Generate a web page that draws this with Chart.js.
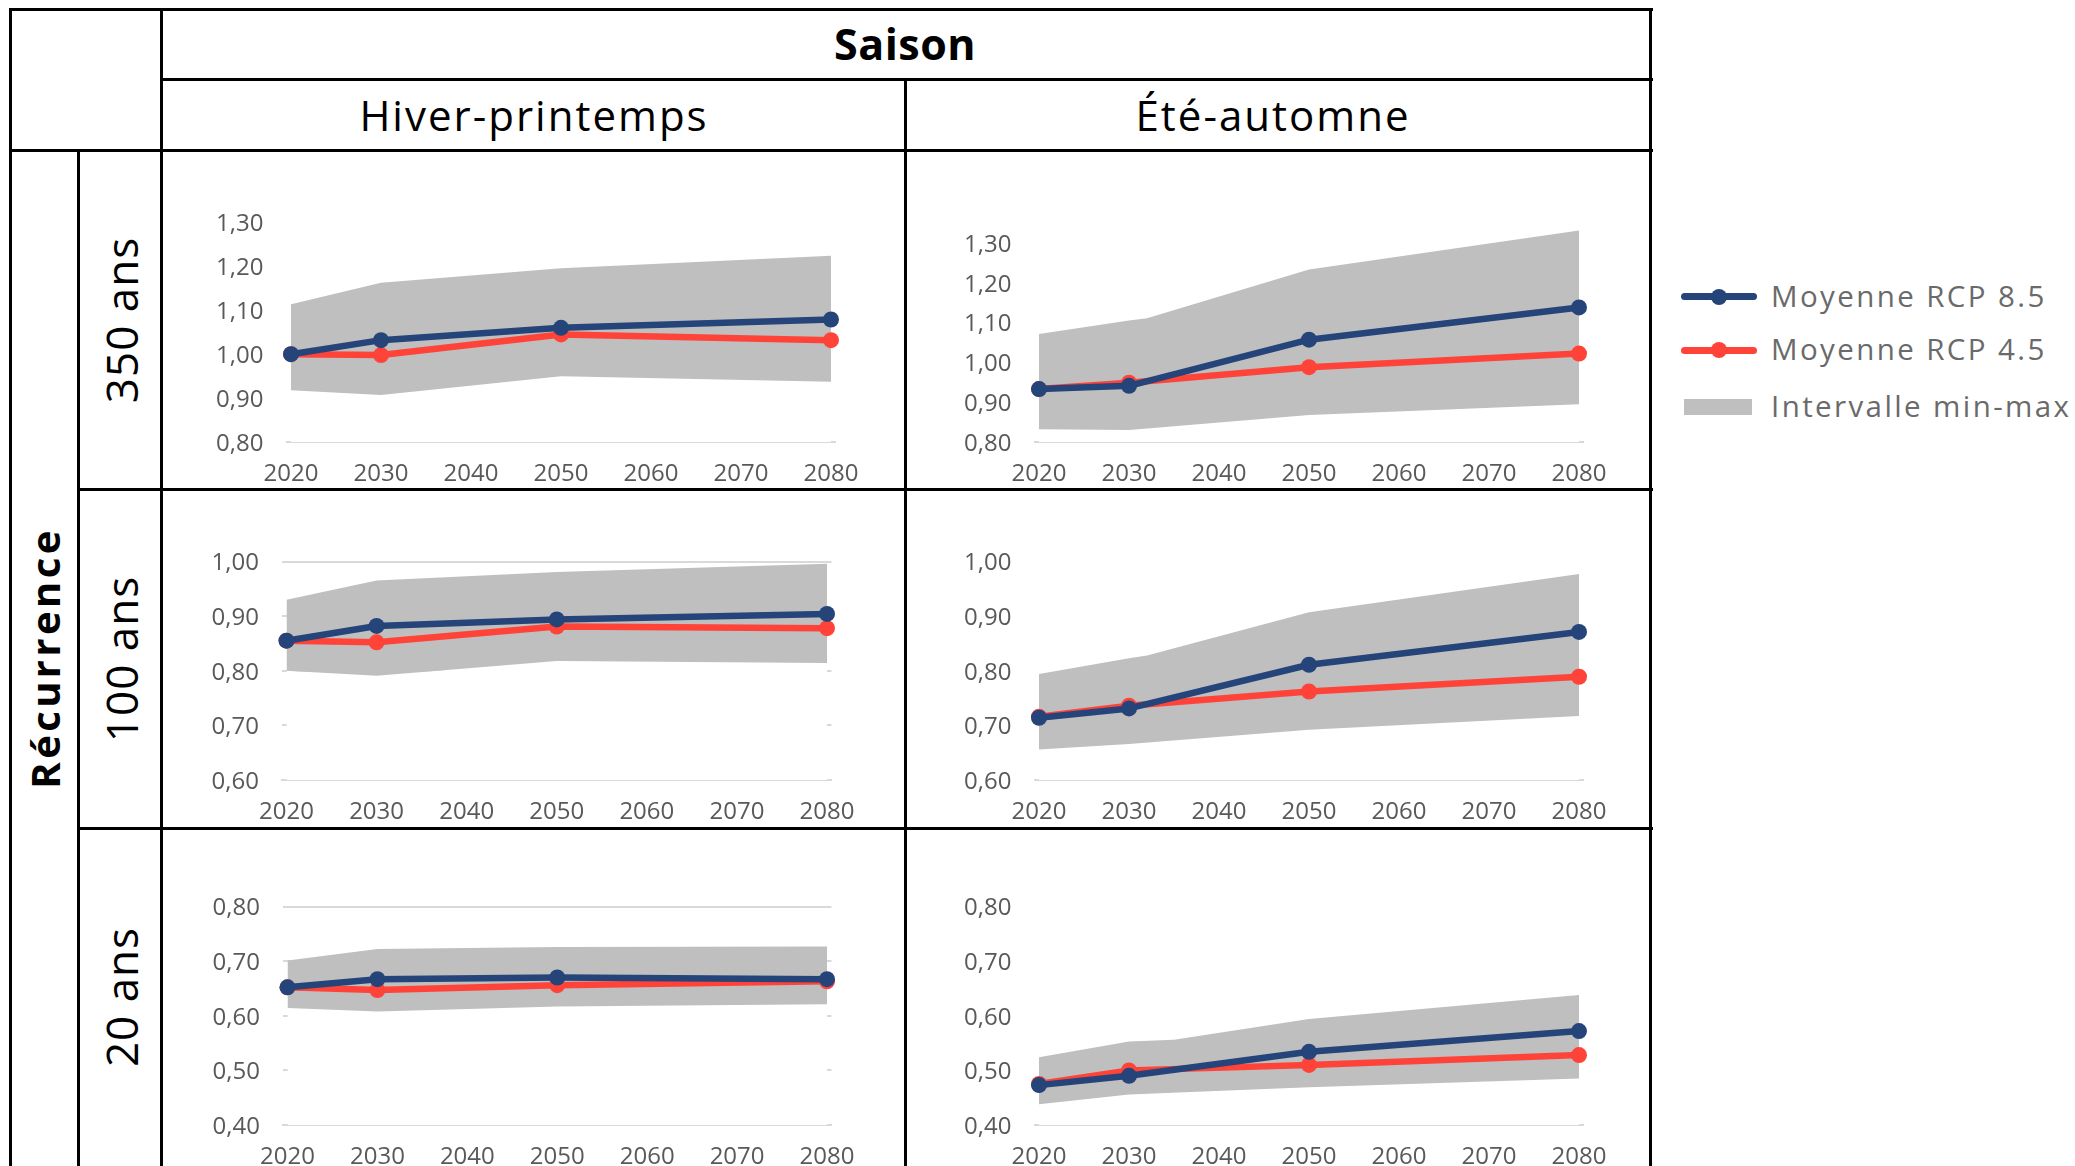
<!DOCTYPE html>
<html lang="fr">
<head>
<meta charset="utf-8">
<title>Saison / Récurrence</title>
<script src="https://cdn.jsdelivr.net/npm/chart.js@4.4.1/dist/chart.umd.min.js"></script>
<style>
  html, body { margin: 0; padding: 0; background: #ffffff; }
  body { width: 2075px; height: 1166px; overflow: hidden; position: relative;
         font-family: "Open Sans", "Noto Sans", sans-serif; }
  .rule { position: absolute; background: #000; z-index: 5; }
  .txt { position: absolute; line-height: 1; white-space: nowrap; color: #000; }
  .rot { transform: translate(-50%, -50%) rotate(-90deg); }
  canvas { position: absolute; }
  .leg-text { position: absolute; line-height: 1; white-space: nowrap; color: #6a6a6a;
              font-size: 29.5px; letter-spacing: 2.4px; }
  .leg-line { position: absolute; border-radius: 4px; }
  .leg-dot { position: absolute; border-radius: 50%; }
</style>
</head>
<body>
<script>
// ---- shared axis values ----
const xTickYears = [2020, 2030, 2040, 2050, 2060, 2070, 2080];
const meanYears = [2020, 2030, 2050, 2080];

// ---- Hiver-printemps, 350 ans ----
const hp350_rcp85 = [1.000, 1.032, 1.060, 1.079];
const hp350_rcp45 = [1.000, 0.998, 1.045, 1.032];
const hp350_maxYears = [2020, 2030, 2050, 2080];
const hp350_max = [1.114, 1.163, 1.196, 1.224];
const hp350_minYears = [2020, 2030, 2050, 2080];
const hp350_min = [0.918, 0.907, 0.950, 0.937];
const hp350_yTicks = [0.80, 0.90, 1.00, 1.10, 1.20, 1.30];

// ---- Été-automne, 350 ans ----
const ea350_rcp85 = [0.933, 0.941, 1.057, 1.138];
const ea350_rcp45 = [0.933, 0.949, 0.988, 1.022];
const ea350_maxYears = [2020, 2030, 2032, 2050, 2080];
const ea350_max = [1.071, 1.105, 1.111, 1.233, 1.331];
const ea350_minYears = [2020, 2030, 2050, 2080];
const ea350_min = [0.832, 0.830, 0.868, 0.895];
const ea350_yTicks = [0.80, 0.90, 1.00, 1.10, 1.20, 1.30];

// ---- Hiver-printemps, 100 ans ----
const hp100_rcp85 = [0.855, 0.882, 0.894, 0.904];
const hp100_rcp45 = [0.855, 0.852, 0.881, 0.878];
const hp100_maxYears = [2020, 2030, 2050, 2080];
const hp100_max = [0.930, 0.965, 0.981, 0.996];
const hp100_minYears = [2020, 2030, 2050, 2080];
const hp100_min = [0.800, 0.791, 0.818, 0.814];
const hp100_yTicks = [0.60, 0.70, 0.80, 0.90, 1.00];

// ---- Été-automne, 100 ans ----
const ea100_rcp85 = [0.714, 0.731, 0.811, 0.871];
const ea100_rcp45 = [0.716, 0.736, 0.762, 0.789];
const ea100_maxYears = [2020, 2030, 2032, 2050, 2080];
const ea100_max = [0.794, 0.823, 0.828, 0.907, 0.977];
const ea100_minYears = [2020, 2030, 2050, 2080];
const ea100_min = [0.656, 0.666, 0.692, 0.717];
const ea100_yTicks = [0.60, 0.70, 0.80, 0.90, 1.00];

// ---- Hiver-printemps, 20 ans ----
const hp20_rcp85 = [0.652, 0.667, 0.670, 0.667];
const hp20_rcp45 = [0.652, 0.647, 0.656, 0.663];
const hp20_maxYears = [2020, 2030, 2050, 2080];
const hp20_max = [0.701, 0.722, 0.726, 0.727];
const hp20_minYears = [2020, 2030, 2050, 2080];
const hp20_min = [0.614, 0.608, 0.617, 0.621];
const hp20_yTicks = [0.40, 0.50, 0.60, 0.70, 0.80];

// ---- Été-automne, 20 ans ----
const ea20_rcp85 = [0.473, 0.490, 0.534, 0.572];
const ea20_rcp45 = [0.475, 0.500, 0.510, 0.528];
const ea20_maxYears = [2020, 2030, 2035, 2050, 2080];
const ea20_max = [0.524, 0.553, 0.556, 0.594, 0.638];
const ea20_minYears = [2020, 2030, 2050, 2080];
const ea20_min = [0.438, 0.456, 0.469, 0.485];
const ea20_yTicks = [0.40, 0.50, 0.60, 0.70, 0.80];

// ---- labels ----
const headerTop = 'Saison';
const seasons = ['Hiver-printemps', 'Été-automne'];
const rowTitle = 'Récurrence';
const recurrences = ['350 ans', '100 ans', '20 ans'];
const legendLabels = ['Moyenne RCP 8.5', 'Moyenne RCP 4.5', 'Intervalle min-max'];

const BLUE = '#254479';
const RED = '#ff4338';
const BAND = '#bfbfbf';
const GRID = '#d9d9d9';

Chart.defaults.font.family = "'Open Sans', 'Noto Sans', sans-serif";
Chart.defaults.color = '#595959';

// ---- table rules ----
function rule(x, y, w, h) {
  const d = document.createElement('div');
  d.className = 'rule';
  Object.assign(d.style, { left: x + 'px', top: y + 'px', width: w + 'px', height: h + 'px' });
  document.body.appendChild(d);
}
const T = 3; // rule thickness
rule(9, 8, 1644, T);      // top border
rule(160, 78, 1493, T);   // under "Saison"
rule(9, 149, 1644, T);    // under season headers
rule(77, 488, 1576, T);   // row separators
rule(77, 827, 1576, T);
rule(9, 8, T, 1160);      // left border
rule(77, 149, T, 1020);
rule(160, 8, T, 1160);
rule(904, 78, T, 1090);
rule(1649, 8, T, 1160);

// ---- header and row texts ----
function text(str, opts) {
  const d = document.createElement('div');
  d.className = 'txt' + (opts.rot ? ' rot' : '');
  d.textContent = str;
  d.style.fontSize = opts.size + 'px';
  d.style.fontWeight = opts.bold ? '700' : '400';
  if (opts.ls) d.style.letterSpacing = opts.ls + 'px';
  d.style.left = opts.x + 'px';
  d.style.top = opts.y + 'px';
  if (!opts.rot) d.style.transform = 'translateX(-50%)';
  document.body.appendChild(d);
  return d;
}
text(headerTop, { x: 905, y: 22, size: 43, bold: true, ls: 0.5 });
text(seasons[0], { x: 534, y: 94, size: 42, ls: 2 });
text(seasons[1], { x: 1273, y: 94, size: 42, ls: 2 });
text(rowTitle, { x: 45, y: 658, size: 40, bold: true, ls: 3.4, rot: true });
text(recurrences[0], { x: 121, y: 320, size: 44, ls: 1, rot: true });
text(recurrences[1], { x: 121, y: 659, size: 44, ls: 1, rot: true });
text(recurrences[2], { x: 121, y: 997, size: 44, ls: 1, rot: true });

// ---- legend ----
function legendRow(cy, label, color, kind) {
  if (kind === 'line') {
    const ln = document.createElement('div');
    ln.className = 'leg-line';
    Object.assign(ln.style, { left: '1681px', top: (cy - 3.5) + 'px', width: '76px', height: '7px', background: color });
    document.body.appendChild(ln);
    const dot = document.createElement('div');
    dot.className = 'leg-dot';
    Object.assign(dot.style, { left: (1719 - 8) + 'px', top: (cy - 8) + 'px', width: '16px', height: '16px', background: color });
    document.body.appendChild(dot);
  } else {
    const bx = document.createElement('div');
    Object.assign(bx.style, { position: 'absolute', left: '1684px', top: (cy - 8) + 'px', width: '68px', height: '16px', background: color });
    document.body.appendChild(bx);
  }
  const t = document.createElement('div');
  t.className = 'leg-text';
  t.textContent = label;
  t.style.left = '1771px';
  t.style.top = (cy - 16) + 'px';
  document.body.appendChild(t);
}
legendRow(296.5, legendLabels[0], BLUE, 'line');
legendRow(350, legendLabels[1], RED, 'line');
legendRow(407, legendLabels[2], BAND, 'box');

// ---- panels ----
function pts(xs, ys) { return xs.map((x, i) => ({ x: x, y: ys[i] })); }
const fmt = v => v.toFixed(2).replace('.', ',');

const panels = [
  { cell: { l: 161, t: 150, r: 905, b: 489 },  plot: { l: 286.5, r: 835.5, t: 222.5, b: 442 },
    yMin: 0.80, yMax: 1.30, yTicks: hp350_yTicks, grid: false,
    rcp85: hp350_rcp85, rcp45: hp350_rcp45, maxYears: hp350_maxYears, max: hp350_max, minYears: hp350_minYears, min: hp350_min },
  { cell: { l: 905, t: 150, r: 1650, b: 489 }, plot: { l: 1034.5, r: 1583.5, t: 227, b: 442 },
    yMin: 0.80, yMax: 1.34, yTicks: ea350_yTicks, grid: false,
    rcp85: ea350_rcp85, rcp45: ea350_rcp45, maxYears: ea350_maxYears, max: ea350_max, minYears: ea350_minYears, min: ea350_min },
  { cell: { l: 161, t: 489, r: 905, b: 828 },  plot: { l: 282, r: 831.5, t: 561.5, b: 780 },
    yMin: 0.60, yMax: 1.00, yTicks: hp100_yTicks, grid: true,
    rcp85: hp100_rcp85, rcp45: hp100_rcp45, maxYears: hp100_maxYears, max: hp100_max, minYears: hp100_minYears, min: hp100_min },
  { cell: { l: 905, t: 489, r: 1650, b: 828 }, plot: { l: 1034.5, r: 1583.5, t: 561.5, b: 780 },
    yMin: 0.60, yMax: 1.00, yTicks: ea100_yTicks, grid: false,
    rcp85: ea100_rcp85, rcp45: ea100_rcp45, maxYears: ea100_maxYears, max: ea100_max, minYears: ea100_minYears, min: ea100_min },
  { cell: { l: 161, t: 828, r: 905, b: 1166 }, plot: { l: 283, r: 831.5, t: 906.5, b: 1125 },
    yMin: 0.40, yMax: 0.80, yTicks: hp20_yTicks, grid: true,
    rcp85: hp20_rcp85, rcp45: hp20_rcp45, maxYears: hp20_maxYears, max: hp20_max, minYears: hp20_minYears, min: hp20_min },
  { cell: { l: 905, t: 828, r: 1650, b: 1166 }, plot: { l: 1034.5, r: 1583.5, t: 906.5, b: 1125 },
    yMin: 0.40, yMax: 0.80, yTicks: ea20_yTicks, grid: false,
    rcp85: ea20_rcp85, rcp45: ea20_rcp45, maxYears: ea20_maxYears, max: ea20_max, minYears: ea20_minYears, min: ea20_min }
];

function meanLine(label, data, color, order) {
  return {
    label: label, data: data, borderColor: color, backgroundColor: color,
    borderWidth: 6.5, pointRadius: 8, pointHoverRadius: 8, pointBorderWidth: 0,
    pointBackgroundColor: color, fill: false, tension: 0, order: order, clip: false,
    borderCapStyle: 'round', borderJoinStyle: 'round'
  };
}

panels.forEach(p => {
  const w = p.cell.r - p.cell.l, h = p.cell.b - p.cell.t;
  const c = document.createElement('canvas');
  c.width = w; c.height = h;
  Object.assign(c.style, { left: p.cell.l + 'px', top: p.cell.t + 'px', width: w + 'px', height: h + 'px' });
  document.body.appendChild(c);

  new Chart(c, {
    type: 'line',
    data: {
      datasets: [
        { label: 'min', data: pts(p.minYears, p.min), fill: 'start', backgroundColor: '#ffffff',
          borderWidth: 0, pointRadius: 0, order: 4 },
        { label: legendLabels[2], data: pts(p.maxYears, p.max), fill: '-1', backgroundColor: BAND,
          borderWidth: 0, pointRadius: 0, order: 3 },
        meanLine(legendLabels[1], pts(meanYears, p.rcp45), RED, 2),
        meanLine(legendLabels[0], pts(meanYears, p.rcp85), BLUE, 1)
      ]
    },
    options: {
      responsive: false, animation: false, devicePixelRatio: 1,
      layout: { padding: { left: 0, top: p.plot.t - p.cell.t, right: p.cell.r - p.plot.r, bottom: 0 } },
      plugins: { legend: { display: false }, tooltip: { enabled: false } },
      scales: {
        x: {
          type: 'linear', min: 2019.5, max: 2080.5,
          afterBuildTicks: s => { s.ticks = xTickYears.map(v => ({ value: v })); },
          afterFit: s => { s.height = p.cell.b - p.plot.b; },
          ticks: { callback: v => String(v), padding: 18, maxRotation: 0, autoSkip: false, font: { size: 24 } },
          grid: { display: false, drawTicks: false },
          border: { display: true, color: GRID, width: 2 }
        },
        y: {
          min: p.yMin, max: p.yMax,
          afterBuildTicks: s => { s.ticks = p.yTicks.map(v => ({ value: v })); },
          afterFit: s => { s.width = p.plot.l - p.cell.l; },
          ticks: { callback: v => fmt(v), padding: 23, labelOffset: 2, font: { size: 24 } },
          grid: { display: p.grid, color: GRID, lineWidth: 2, drawTicks: false },
          border: { display: false }
        }
      }
    }
  });
});
</script>
</body>
</html>
